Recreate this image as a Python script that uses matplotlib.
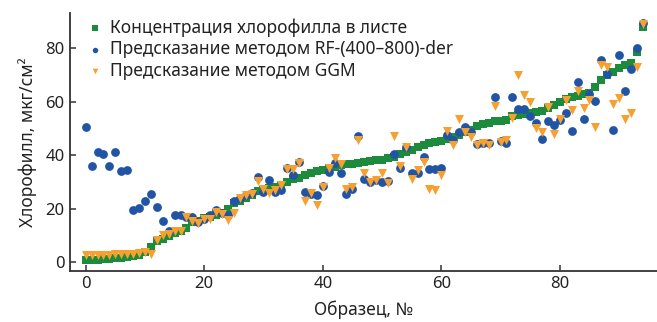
import numpy as np
import matplotlib.pyplot as plt

plt.rcParams['font.family'] = ['Noto Sans', 'DejaVu Sans']

# образцы 0..94
measured = [0.8, 1.0, 1.1, 1.3, 1.4, 1.5, 1.7, 1.9, 2.3, 2.8,
            3.8, 5.8, 8.2, 8.8, 10.0, 11.0, 11.6, 13.0, 15.0, 15.6,
            16.6, 17.1, 17.6, 18.6, 20.1, 22.1, 23.1, 23.9, 25.1, 26.8,
            27.2, 27.7, 28.3, 29.0, 30.0, 31.0, 31.7, 32.5, 33.3, 34.0,
            34.6, 35.2, 35.8, 36.2, 36.6, 36.9, 37.2, 37.5, 37.8, 38.1,
            38.4, 39.0, 39.5, 40.3, 41.2, 42.0, 43.0, 44.0, 44.6, 45.1,
            45.5, 46.1, 46.8, 47.6, 48.5, 49.5, 51.0, 51.7, 52.2, 52.6,
            52.9, 53.3, 54.5, 55.0, 55.4, 55.7, 56.0, 56.4, 57.8, 58.7,
            60.0, 61.0, 61.6, 62.2, 62.8, 63.3, 65.5, 68.0, 70.0, 71.0,
            72.5, 73.5, 74.5, 78.5, 88.0]

rf_der = [50.6, 36.0, 41.3, 40.4, 36.0, 41.4, 34.2, 34.6, 19.5, 20.5,
          23.0, 25.5, 20.7, 15.3, 11.7, 17.6, 17.6, 17.0, 16.9, 15.1,
          16.2, 17.9, 19.5, 18.5, 17.6, 23.0, 24.2, 25.0, 26.0, 31.9,
          26.3, 30.7, 26.3, 27.2, 35.1, 32.8, 37.5, 26.3, 25.7, 25.1,
          28.5, 33.8, 37.2, 33.4, 25.5, 27.5, 47.1, 31.3, 30.1, 30.8,
          30.1, 30.3, 40.4, 35.4, 42.9, 33.4, 33.4, 39.4, 34.8, 34.8,
          35.4, 47.5, 45.6, 48.7, 50.6, 48.7, 44.1, 44.4, 44.4, 61.8,
          45.4, 44.6, 61.8, 57.1, 57.1, 54.7, 52.2, 46.0, 52.8, 51.2,
          53.1, 55.8, 49.1, 67.4, 53.4, 62.8, 60.3, 75.5, 70.5, 49.4,
          77.4, 64.0, 72.0, 80.2, 89.5]

ggm = [2.7, 2.7, 2.8, 2.8, 2.9, 3.0, 3.0, 3.1, 3.3, 3.6,
       3.8, 3.2, 8.3, 10.2, 10.8, 11.8, 11.8, 16.8, 15.5, 14.8,
       16.4, 16.2, 18.9, 18.0, 16.0, 18.5, 23.9, 25.1, 25.7, 30.4,
       27.6, 26.0, 27.2, 28.8, 34.7, 34.7, 37.3, 23.0, 26.0, 21.4,
       28.2, 35.3, 38.8, 36.6, 27.6, 28.2, 45.6, 33.2, 30.1, 30.7,
       33.2, 29.5, 47.1, 35.9, 43.1, 31.3, 34.4, 37.5, 27.6, 27.2,
       32.6, 49.1, 43.8, 53.4, 48.7, 46.9, 43.9, 44.6, 43.8, 58.3,
       44.9, 45.6, 54.0, 69.9, 62.4, 59.9, 50.0, 48.7, 58.1, 47.9,
       53.7, 60.8, 56.8, 64.0, 57.5, 60.8, 50.4, 73.6, 72.8, 59.1,
       61.2, 53.7, 55.6, 72.8, 89.0]

x = np.arange(len(measured))

fig = plt.figure(figsize=(6.57, 3.22), dpi=100)
ax = fig.add_axes([0.107, 0.159, 0.893, 0.80])

ax.scatter(x, measured, marker='s', s=34, color='#1c8c3c', linewidths=0,
           zorder=2, label='Концентрация хлорофилла в листе')
ax.scatter(x, rf_der, marker='o', s=40, color='#2254a6', linewidths=0,
           zorder=3, label='Предсказание методом RF-(400–800)-der')
ax.scatter(x, ggm, marker='v', s=42, color='#f7a030', linewidths=0,
           zorder=4, label='Предсказание методом GGM')

ax.set_xlim(-2.6, 96.4)
ax.set_ylim(-3.1, 93)
ax.set_xticks([0, 20, 40, 60, 80])
ax.set_yticks([0, 20, 40, 60, 80])

for s in ['top', 'right']:
    ax.spines[s].set_visible(False)
for s in ['left', 'bottom']:
    ax.spines[s].set_color('#333333')
    ax.spines[s].set_linewidth(1.3)
ax.tick_params(direction='in', length=4, width=1.1, color='#333333',
               labelsize=12, labelcolor='#222222', pad=4)

ax.set_xlabel('Образец, №', fontsize=12.5, color='#222222', labelpad=6)
ax.set_ylabel('Хлорофилл, мкг/см²', fontsize=12.5, color='#222222', labelpad=6)

leg = ax.legend(loc='upper left', bbox_to_anchor=(0.01, 1.02), frameon=False,
                fontsize=12.5, markerscale=0.62, handletextpad=0.35,
                labelspacing=0.2, borderpad=0.1, handlelength=1.0)
for t in leg.get_texts():
    t.set_color('#222222')

fig.savefig('out.png', dpi=100)
